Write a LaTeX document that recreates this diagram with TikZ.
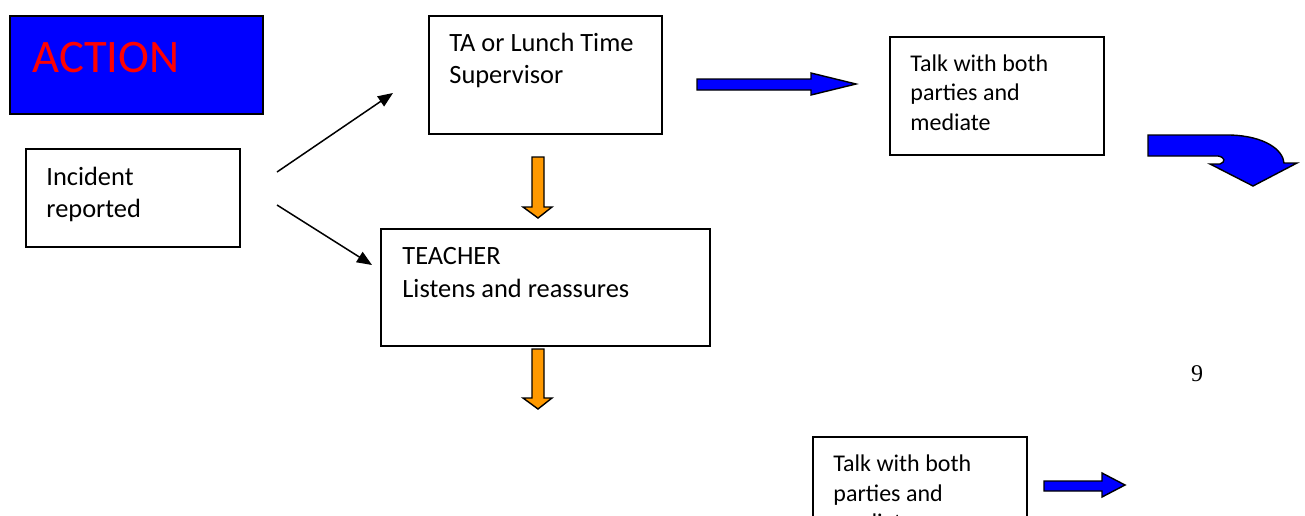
\documentclass[tikz,border=0pt]{standalone}
\usepackage{fontspec}
\setmainfont{Carlito}
\newfontfamily\pagenofont{Liberation Serif}
\usetikzlibrary{arrows.meta}
\definecolor{actblue}{RGB}{0,0,255}
\definecolor{stepgold}{RGB}{255,153,0}

\begin{document}
\begin{tikzpicture} [x=0.5pt, y=-0.5pt,
    box/.style = {draw,
    line width = 0.8pt,
    anchor = north west,
    inner sep = 0pt,
    minimum width = 107pt,
    minimum height = 59pt},
    words/.style = {anchor = north west,
    inner sep = 0pt,
    align = left,
    font = \fontsize{13.2}{16}\selectfont},
    small words/.style = {words,
    font = \fontsize{12}{14.75}\selectfont},
    thin arrow/.style = {line width = 0.75pt,
    -{Triangle[length=7.5pt, width=6pt]}},
    blue block/.style = {draw, line width = 0.7pt, fill = actblue},
    gold block/.style = {draw, line width = 0.7pt, fill = stepgold}]

\useasboundingbox (0,0) rectangle (1305,515);
\clip (0,0) rectangle (1305,515);

% boxes
\node (act) at (9,15) [box, fill = actblue, minimum width = 126.5pt, minimum height = 49pt] {};
\node (actword) at (32,72) [anchor = base west, inner sep = 0pt, text = red,
    font = \fontsize{23.3}{28}\selectfont] {ACTION};

\node (inc) at (25,148) [box, minimum height = 49pt] {};
\node (incword) at (46,166.5) [words] {Incident\\reported};

\node (ta) at (428,15) [box, minimum width = 116.5pt] {};
\node (taword) at (449,32.5) [words] {TA or Lunch Time\\Supervisor};

\node (tch) at (380,228) [box, minimum width = 164.5pt, minimum height = 58.5pt] {};
\node (tchword) at (402,246.5) [words, font = \fontsize{13.2}{16.8}\selectfont] {TEACHER\\Listens and reassures};

\node (talk) at (889,36) [box] {};
\node (talkword) at (910,54) [small words] {Talk with both\\parties and\\mediate};

\node (talkb) at (812,436) [box] {};
\node (talkbword) at (833,454.5) [small words] {Talk with both\\parties and\\mediate};

\node (pgno) at (1197,374) [font = \pagenofont\fontsize{12}{14}\selectfont] {9};

% thin arrows
\coordinate (upstart) at (277,172);
\coordinate (upend) at (393,93);
\coordinate (downstart) at (277,205);
\coordinate (downend) at (372,265);
\draw [thin arrow] (upstart) -- (upend);
\draw [thin arrow] (downstart) -- (downend);

% block arrows
\foreach \top/\neck in {157/207, 349/398}
  \draw [gold block] (532,\top) -- (544,\top) -- (544,\neck) -- (552,\neck)
    -- (538,\neck+11) -- (523,\neck) -- (532,\neck) -- cycle;

\draw [blue block] (697,79) -- (811,79) -- (811,73) -- (856,84) -- (811,95)
  -- (811,90) -- (697,90) -- cycle;
\draw [blue block] (1044,481) -- (1102,481) -- (1102,473) -- (1125,485)
  -- (1102,497) -- (1102,491) -- (1044,491) -- cycle;

% bent arrow
\draw [blue block] (1148,135) -- (1230,135) .. controls (1265,136) and (1283,150) .. (1284,163)
  -- (1297,163) -- (1253,186) -- (1210,164) -- (1220,164)
  .. controls (1226,162) and (1225,157) .. (1218,156) -- (1148,156) -- cycle;

\end{tikzpicture}
\end{document}
